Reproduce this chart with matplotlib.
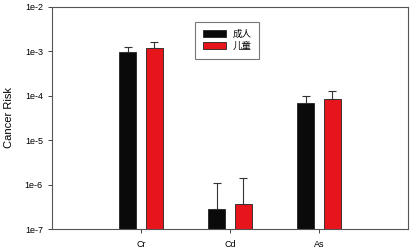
import numpy as np
import matplotlib.pyplot as plt

plt.rcParams['font.family'] = ['Liberation Sans', 'Noto Sans CJK SC', 'DejaVu Sans']

elements = ['Cr', 'Cd', 'As']
adult = [9.5e-4, 2.8e-7, 6.8e-5]
child = [1.19e-3, 3.6e-7, 8.6e-5]
adult_top = [1.26e-3, 1.1e-6, 9.7e-5]
child_top = [1.63e-3, 1.43e-6, 1.26e-4]
yticks = [1e-7, 1e-6, 1e-5, 1e-4, 1e-3, 1e-2]
ytick_labels = ['1e-7', '1e-6', '1e-5', '1e-4', '1e-3', '1e-2']

adult = np.array(adult)
child = np.array(child)
adult_err = [np.zeros(3), np.array(adult_top) - adult]
child_err = [np.zeros(3), np.array(child_top) - child]

x = np.arange(1, len(elements) + 1)
w = 0.19

fig = plt.figure(figsize=(4.15, 2.5), dpi=100)
ax = fig.add_axes([0.125, 0.084, 0.858, 0.888])

ax.bar(x - 0.15, adult, w, color='#0a0a0a', edgecolor='#222222', linewidth=0.6,
       label='成人', yerr=adult_err, capsize=3,
       error_kw=dict(ecolor='#333333', elinewidth=0.8, capthick=0.8))
ax.bar(x + 0.15, child, w, color='#e8141c', edgecolor='#222222', linewidth=0.6,
       label='儿童', yerr=child_err, capsize=3,
       error_kw=dict(ecolor='#333333', elinewidth=0.8, capthick=0.8))

ax.set_yscale('log')
ax.set_ylim(1e-7, 1e-2)
ax.set_yticks(yticks)
ax.set_yticklabels(ytick_labels)
ax.minorticks_off()
ax.set_xlim(0, 4)
ax.set_xticks(x)
ax.set_xticklabels(elements)
ax.tick_params(axis='both', labelsize=6.5, length=3, width=0.7, color='#444444')
ax.tick_params(axis='x', pad=5)
ax.set_ylabel('Cancer Risk', fontsize=8, labelpad=8)
for s in ax.spines.values():
    s.set_color('#555555')
    s.set_linewidth(0.8)

leg = ax.legend(loc='upper left', bbox_to_anchor=(0.39, 0.955), fontsize=6.8,
                frameon=True, fancybox=False, handlelength=2.4, handleheight=0.75,
                borderpad=0.8, labelspacing=0.35, handletextpad=0.7)
leg.get_frame().set_edgecolor('#555555')
leg.get_frame().set_linewidth(0.8)

fig.savefig('out.png', dpi=100)
